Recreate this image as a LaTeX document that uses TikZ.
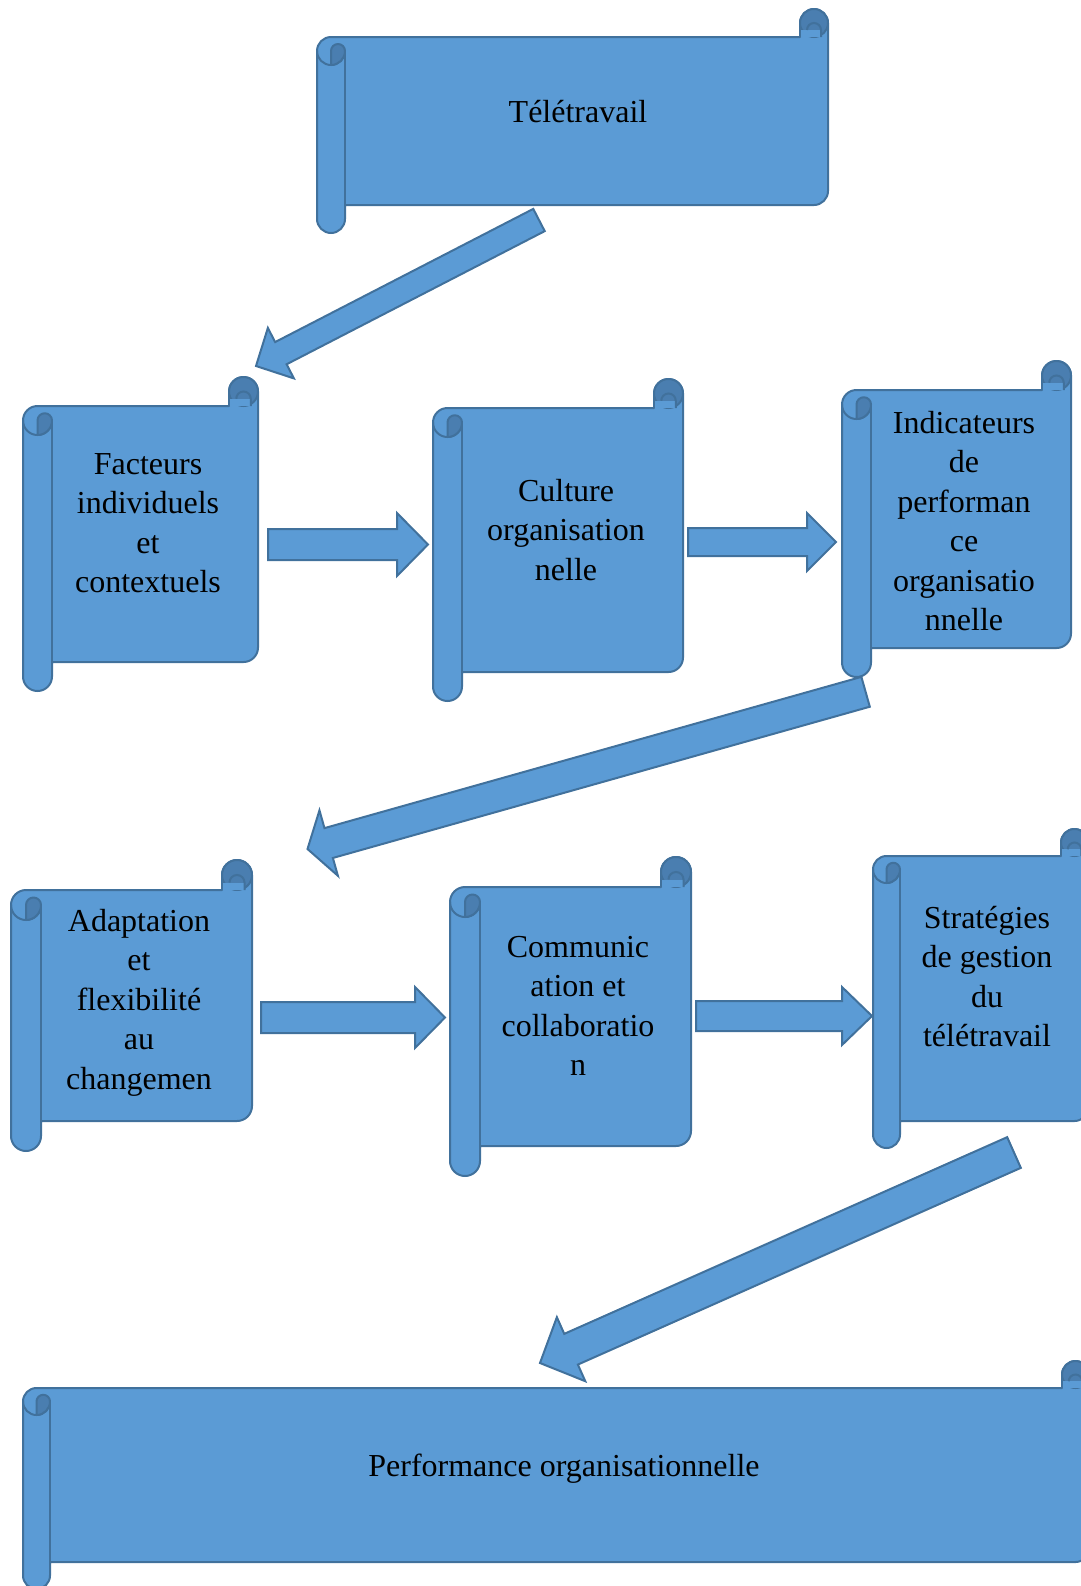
\documentclass[tikz,border=0pt]{standalone}
\usepackage{fontspec}
\setmainfont{Liberation Serif}
\definecolor{sbase}{RGB}{91,155,213}
\definecolor{sedge}{RGB}{65,113,156}
\definecolor{sdarkc}{RGB}{74,126,176}
\tikzset{
  scroll/.style={fill=sbase,draw=sedge,line width=1pt,line join=round},
  sdark/.style={fill=sdarkc,draw=sedge,line width=1pt,line join=round},
  sline/.style={draw=sedge,line width=1pt},
  barrowstyle/.style={fill=sbase,draw=sedge,line width=1pt,line join=miter},
  txt/.style={font=\fontsize{16pt}{19.75pt}\selectfont,text=black,inner sep=0pt,anchor=base}
}
% vertical scroll: left, top, right, bottom, roll size
\newcommand\vscroll[5]{%
  \pgfmathsetmacro\scL{#1}\pgfmathsetmacro\scT{#2}%
  \pgfmathsetmacro\scR{#3}\pgfmathsetmacro\scB{#4}%
  \pgfmathsetmacro\scD{#5}\pgfmathsetmacro\scH{#5/2}\pgfmathsetmacro\scQ{#5/4}%
  \filldraw[scroll] (\scL+\scD,\scB-\scD) -- (\scR-\scH,\scB-\scD)
     arc[start angle=90,end angle=0,radius=\scH] -- (\scR,\scT+\scH)
     arc[start angle=0,end angle=-180,radius=\scH] -- (\scR-\scD,\scT+\scD)
     -- (\scL+\scH,\scT+\scD)
     arc[start angle=270,end angle=180,radius=\scH] -- (\scL,\scB-\scH)
     arc[start angle=180,end angle=0,radius=\scH] -- cycle;
  \draw[sline] (\scL+\scD,\scB-\scH) -- (\scL+\scD,\scT+\scD+\scH);
  \draw[sline] (\scL,\scT+\scD+\scH) arc[start angle=180,end angle=0,radius=\scH];
  \filldraw[sdark] (\scL+\scH,\scT+\scD+\scH) arc[start angle=180,end angle=360,radius=\scQ]
     arc[start angle=0,end angle=90,radius=\scH] -- cycle;
  \filldraw[sdark] (\scR-\scH,\scT+\scH) circle[radius=\scH];
  \fill[sbase] (\scR-\scD,\scT+\scH+\scQ) rectangle (\scR-\scQ,\scT+\scD);
  \draw[sline] (\scR-\scD,\scT+\scD) -- (\scR-\scD,\scT+\scH);
  \draw[sline] (\scR-\scH-\scQ,\scT+\scH+\scQ) arc[start angle=180,end angle=360,radius=\scQ] -- (\scR-\scQ,\scT+\scD);
}
% block arrow: tail x, tail y, tip x, tip y, half shaft, half head, head length
\newcommand\barrow[7]{%
  \pgfmathsetmacro\baDX{#3-#1}\pgfmathsetmacro\baDY{#4-#2}%
  \pgfmathsetmacro\baLen{veclen(\baDX,\baDY)}%
  \pgfmathsetmacro\baUX{\baDX/\baLen}\pgfmathsetmacro\baUY{\baDY/\baLen}%
  \pgfmathsetmacro\baNX{#3-#7*\baUX}\pgfmathsetmacro\baNY{#4-#7*\baUY}%
  \filldraw[barrowstyle]
    (#1-#5*\baUY,#2+#5*\baUX) -- (\baNX-#5*\baUY,\baNY+#5*\baUX)
    -- (\baNX-#6*\baUY,\baNY+#6*\baUX) -- (#3,#4)
    -- (\baNX+#6*\baUY,\baNY-#6*\baUX) -- (\baNX+#5*\baUY,\baNY-#5*\baUX)
    -- (#1+#5*\baUY,#2-#5*\baUX) -- cycle;
}
\begin{document}
\begin{tikzpicture}[x=0.5pt,y=-0.5pt]
\useasboundingbox (0,0) rectangle (1081,1586);
\clip (0,0) rectangle (1081,1586);
% scrolls
\vscroll{317}{9}{828}{233}{28}
\vscroll{23}{377}{258}{691}{29}
\vscroll{433}{379}{683}{701}{29}
\vscroll{842}{361}{1071}{677}{29}
\vscroll{11}{860}{252}{1151}{30}
\vscroll{450}{857}{691}{1176}{30}
\vscroll{873}{829}{1088}{1148}{27}
\vscroll{23}{1361}{1089}{1589}{27}
% arrows
\barrow{539}{220}{256}{366}{12.5}{28.4}{28}
\barrow{268}{544.5}{428}{544.5}{15.5}{31.5}{31}
\barrow{688}{542}{836}{542}{14}{29}{29}
\barrow{865.6}{691.8}{307.5}{849}{15.5}{34}{22}
\barrow{261}{1017.5}{445}{1017.5}{15.5}{30.5}{30}
\barrow{696}{1016}{872}{1016}{15}{29}{30}
\barrow{1014}{1152.5}{540}{1363}{16.8}{35}{34}
% texts
\node[txt] (tele) at (578,122) {Télétravail};
\node[txt] (fa1) at (148,474) {Facteurs};
\node[txt] (fa2) at (148,513.5) {individuels};
\node[txt] (fa3) at (148,553) {et};
\node[txt] (fa4) at (148,592.5) {contextuels};
\node[txt] (cu1) at (566,501) {Culture};
\node[txt] (cu2) at (566,540.5) {organisation};
\node[txt] (cu3) at (566,580) {nelle};
\node[txt] (in1) at (964,433) {Indicateurs};
\node[txt] (in2) at (964,472.5) {de};
\node[txt] (in3) at (964,512) {performan};
\node[txt] (in4) at (964,551.5) {ce};
\node[txt] (in5) at (964,591) {organisatio};
\node[txt] (in6) at (964,630.5) {nnelle};
\node[txt] (ad1) at (139,931) {Adaptation};
\node[txt] (ad2) at (139,970.5) {et};
\node[txt] (ad3) at (139,1010) {flexibilité};
\node[txt] (ad4) at (139,1049.5) {au};
\node[txt] (ad5) at (139,1089) {changemen};
\node[txt] (co1) at (578,957) {Communic};
\node[txt] (co2) at (578,996.5) {ation et};
\node[txt] (co3) at (578,1036) {collaboratio};
\node[txt] (co4) at (578,1075.5) {n};
\node[txt] (st1) at (987,928) {Stratégies};
\node[txt] (st2) at (987,967.5) {de gestion};
\node[txt] (st3) at (987,1007) {du};
\node[txt] (st4) at (987,1046.5) {télétravail};
\node[txt] (perf) at (564,1476) {Performance organisationnelle};
\end{tikzpicture}
\end{document}
